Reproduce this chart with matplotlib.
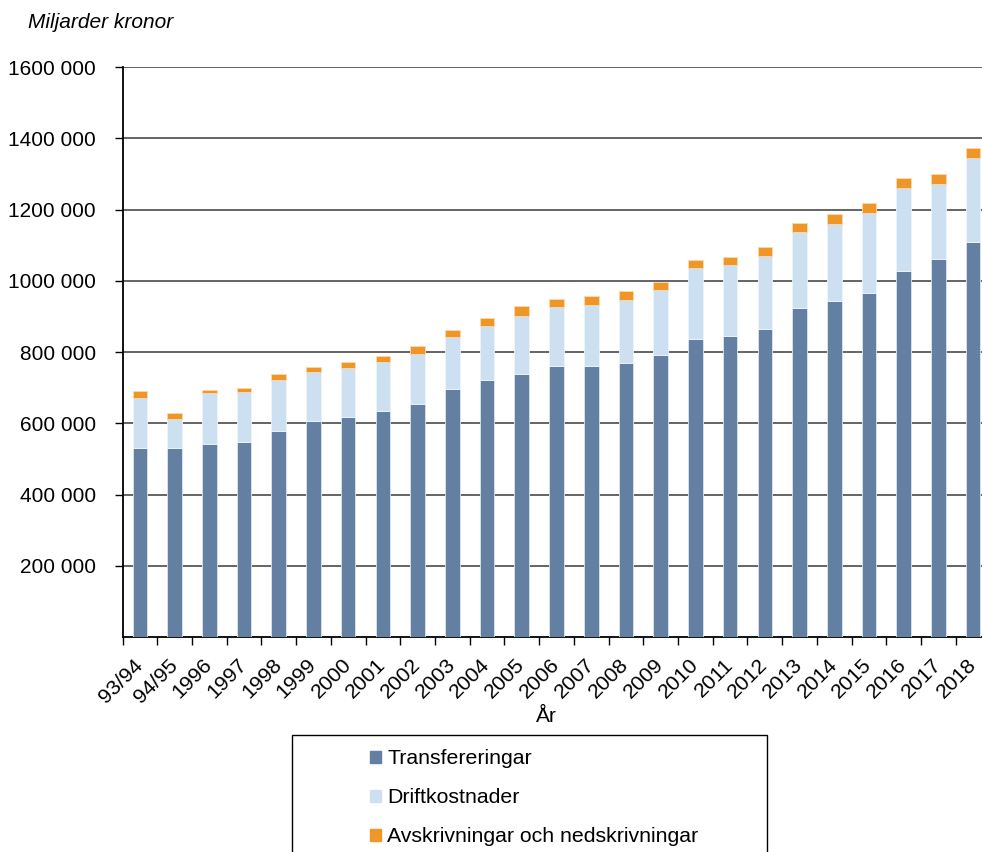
import matplotlib.pyplot as plt
from matplotlib.patches import Rectangle
import numpy as np

plt.rcParams['font.family'] = ['Liberation Sans', 'DejaVu Sans']

years = ['93/94', '94/95', '1996', '1997', '1998', '1999', '2000', '2001', '2002',
         '2003', '2004', '2005', '2006', '2007', '2008', '2009', '2010', '2011',
         '2012', '2013', '2014', '2015', '2016', '2017', '2018']

transfereringar = [530000, 530500, 542600, 547400, 578200, 607200, 617500, 635300,
                   654000, 695300, 722300, 738200, 760700, 760700, 769100, 791600,
                   837300, 844900, 864600, 923500, 942300, 966500, 1026500, 1061900,
                   1109600]
driftkostnader = [142000, 82300, 141400, 140300, 144100, 136700, 138500, 137500,
                  141300, 146000, 151500, 162800, 165600, 171200, 177700, 183300,
                  199300, 198400, 205800, 213300, 217900, 222800, 233800, 209700,
                  235000]
avskrivningar = [18000, 16000, 9300, 11200, 15100, 14900, 16800, 16000, 22400,
                 20400, 21600, 28100, 23300, 25300, 23500, 22400, 22500, 23400,
                 24300, 25300, 27200, 28100, 28100, 28000, 28000]

labels = ['Transfereringar', 'Driftkostnader', 'Avskrivningar och nedskrivningar']
colors = ['#6380a3', '#cce0f1', '#ee9628']

W, H = 982, 852
fig = plt.figure(figsize=(W / 100, H / 100), dpi=100)
# plot area runs a bit past the right edge of the picture, like the original
ax = fig.add_axes([122.5 / W, 215 / H, 868 / W, 570 / H])

x = np.arange(len(years))
t = np.array(transfereringar)
d = np.array(driftkostnader)
a = np.array(avskrivningar)
bw = 0.42
ax.bar(x, t, bw, color=colors[0], edgecolor='#dde6ef', linewidth=0.6, zorder=3)
ax.bar(x, d, bw, bottom=t, color=colors[1], edgecolor='#eef4fa', linewidth=0.6, zorder=3)
ax.bar(x, a, bw, bottom=t + d, color=colors[2], edgecolor='#fbd9ae', linewidth=0.6, zorder=3)

ax.set_xlim(-0.5, len(years) - 0.5)
ax.set_ylim(0, 1600000)
yt = np.arange(200000, 1600001, 200000)
ax.set_yticks(yt)
ax.set_yticklabels([f'{v // 1000} 000' for v in yt], fontsize=15)
ax.yaxis.grid(True, color='#3a3a3a', linewidth=1.1, zorder=0)
ax.tick_params(axis='y', length=6, width=1, pad=13)

ax.set_xticks(x)
ax.set_xticklabels(years, fontsize=15.3, rotation=45, ha='right', va='center',
                   rotation_mode='anchor')
ax.set_xticks(np.arange(-0.5, len(years)), minor=True)
ax.tick_params(axis='x', which='major', length=0, pad=18)
ax.tick_params(axis='x', which='minor', length=6, width=1)

for s in ['top', 'right']:
    ax.spines[s].set_visible(False)
ax.spines['left'].set_linewidth(1.3)
ax.spines['bottom'].set_linewidth(1.3)

fig.text(28 / W, 1 - 22 / H, 'Miljarder kronor', fontsize=15, style='italic',
         va='center', ha='left')
fig.text(546 / W, 1 - 716 / H, 'År', fontsize=15, ha='center', va='center')

# legend frame (cut off at the bottom in the original)
fig.patches.append(Rectangle((292 / W, -0.1), (767 - 292) / W, (852 - 735) / H + 0.1,
                             transform=fig.transFigure, fill=False,
                             edgecolor='black', linewidth=1))
handles = [Rectangle((0, 0), 1, 1, color=c) for c in colors]
fig.legend(handles, labels, loc='upper left', bbox_to_anchor=(351 / W, 1 - 730 / H),
           frameon=False, fontsize=15.3, handlelength=0.5, handleheight=0.5,
           handletextpad=0.3, labelspacing=0.95)

fig.savefig('out.png', dpi=100)
